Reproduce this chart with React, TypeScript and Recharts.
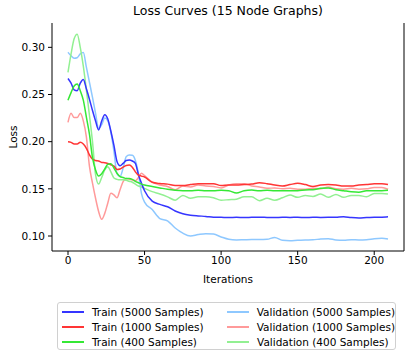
import { LineChart, Line, XAxis, YAxis, Label } from 'recharts';

const iterations = [
  0, 2, 4, 6, 8, 10, 12, 14, 16, 18, 20, 22, 24, 26, 28, 30, 32, 34, 36, 38, 40, 42, 44, 46, 48, 50,
  55, 60, 65, 70, 75, 80, 85, 90, 95, 100, 105, 110, 115, 120, 125, 130, 135, 140, 145, 150, 155,
  160, 165, 170, 175, 180, 185, 190, 195, 200, 205, 209,
];

const train5000 = [
  0.267, 0.262, 0.255, 0.254, 0.262, 0.266, 0.256, 0.245, 0.233, 0.222, 0.2125, 0.222, 0.2286, 0.224,
  0.211, 0.196, 0.179, 0.1745, 0.177, 0.18, 0.1805, 0.1795, 0.177, 0.165, 0.1558, 0.148,
  0.137, 0.1335, 0.131, 0.1265, 0.1235, 0.122, 0.1213, 0.1208, 0.12, 0.1198, 0.1195, 0.1198, 0.1195,
  0.1198, 0.12, 0.1197, 0.1195, 0.1198, 0.1197, 0.1198, 0.1195, 0.1198, 0.1197, 0.1198, 0.12, 0.1205,
  0.1195, 0.119, 0.1195, 0.1198, 0.12, 0.1203,
];
const train1000 = [
  0.1999, 0.1993, 0.1975, 0.1975, 0.1993, 0.1975, 0.193, 0.186, 0.1815, 0.18, 0.1795, 0.178, 0.1777,
  0.1768, 0.1755, 0.174, 0.1705, 0.171, 0.173, 0.1748, 0.1752, 0.173, 0.168, 0.1645, 0.1635, 0.1625,
  0.157, 0.1556, 0.155, 0.1535, 0.1535, 0.1545, 0.1555, 0.1555, 0.1555, 0.1535, 0.154, 0.154, 0.1545,
  0.155, 0.1565, 0.1555, 0.154, 0.153, 0.1545, 0.1558, 0.1545, 0.1525, 0.154, 0.1545, 0.154, 0.153,
  0.153, 0.154, 0.1545, 0.1555, 0.1555, 0.1545,
];
const train400 = [
  0.244, 0.252, 0.259, 0.2612, 0.254, 0.244, 0.226, 0.208, 0.183, 0.17, 0.1635, 0.166, 0.171, 0.176,
  0.1765, 0.172, 0.1665, 0.163, 0.162, 0.161, 0.161, 0.16, 0.158, 0.1565, 0.155, 0.154,
  0.1525, 0.151, 0.1495, 0.1485, 0.148, 0.148, 0.1485, 0.148, 0.148, 0.1485, 0.148, 0.1455, 0.148,
  0.1487, 0.148, 0.1485, 0.148, 0.148, 0.148, 0.148, 0.1488, 0.149, 0.1505, 0.151, 0.149, 0.148,
  0.147, 0.1465, 0.148, 0.148, 0.148, 0.1485,
];
const val5000 = [
  0.2947, 0.291, 0.2885, 0.289, 0.293, 0.2945, 0.279, 0.263, 0.247, 0.23, 0.214, 0.218, 0.225, 0.222,
  0.21, 0.19, 0.166, 0.163, 0.172, 0.184, 0.1858, 0.1855, 0.18, 0.166, 0.145, 0.136,
  0.128, 0.1185, 0.116, 0.1085, 0.103, 0.1, 0.1015, 0.1025, 0.102, 0.099, 0.0965, 0.0958, 0.096,
  0.0962, 0.0962, 0.0965, 0.0985, 0.0955, 0.095, 0.0955, 0.0958, 0.096, 0.0968, 0.0972, 0.0958,
  0.0955, 0.096, 0.0958, 0.096, 0.097, 0.0975, 0.0968,
];
const val1000 = [
  0.2205, 0.23, 0.2255, 0.2255, 0.23, 0.222, 0.205, 0.174, 0.156, 0.14, 0.126, 0.1177, 0.124, 0.135,
  0.1452, 0.1435, 0.1405, 0.149, 0.1576, 0.161, 0.1605, 0.1594, 0.1585, 0.162, 0.1664, 0.164,
  0.157, 0.154, 0.1525, 0.149, 0.153, 0.152, 0.154, 0.153, 0.1525, 0.151, 0.154, 0.1555, 0.1555,
  0.153, 0.152, 0.1505, 0.151, 0.15, 0.1505, 0.1495, 0.1495, 0.1505, 0.15, 0.152, 0.15, 0.1495,
  0.1505, 0.1495, 0.15, 0.1515, 0.1515, 0.1495,
];
const val400 = [
  0.2735, 0.293, 0.309, 0.314, 0.3, 0.28, 0.255, 0.228, 0.2, 0.165, 0.155, 0.162, 0.17, 0.1735,
  0.168, 0.1615, 0.16, 0.1595, 0.1595, 0.159, 0.158, 0.157, 0.155, 0.153, 0.152, 0.1505,
  0.147, 0.1445, 0.1415, 0.138, 0.143, 0.14, 0.1415, 0.1417, 0.1406, 0.138, 0.1385, 0.139, 0.1415,
  0.1415, 0.1375, 0.14, 0.138, 0.1405, 0.1434, 0.141, 0.143, 0.142, 0.1445, 0.141, 0.144, 0.141,
  0.143, 0.143, 0.1415, 0.145, 0.145, 0.1445,
];

const xTicks = [0, 50, 100, 150, 200];
const yTicks = [0.1, 0.15, 0.2, 0.25, 0.3];

const series = [
  { key: 'train5000', name: 'Train (5000 Samples)', color: '#3535ff', values: train5000 },
  { key: 'train1000', name: 'Train (1000 Samples)', color: '#ff3535', values: train1000 },
  { key: 'train400', name: 'Train (400 Samples)', color: '#35e835', values: train400 },
  { key: 'val5000', name: 'Validation (5000 Samples)', color: '#8ec8ff', values: val5000 },
  { key: 'val1000', name: 'Validation (1000 Samples)', color: '#ff9a9a', values: val1000 },
  { key: 'val400', name: 'Validation (400 Samples)', color: '#92f092', values: val400 },
];

const data = iterations.map((it, i) => {
  const row: any = { it };
  series.forEach((s) => { row[s.key] = s.values[i]; });
  return row;
});

const FONT = '"DejaVu Sans", sans-serif';
const tickStyle = { fontSize: 10.5, fill: '#000', fontFamily: FONT };

export default function App() {
  const drawOrder = [...series.slice(3), ...series.slice(0, 3)];
  return (
    <div style={{ position: 'absolute', left: 0, top: 0, width: 415, height: 359, background: '#fff', fontFamily: FONT }}>
      <div style={{ position: 'absolute', left: 52, top: 3, width: 352, textAlign: 'center', fontSize: 12.5, color: '#000' }}>
        Loss Curves (15 Node Graphs)
      </div>
      <LineChart width={415} height={359} data={data} margin={{ top: 23, right: 0, left: 0, bottom: 68 }}>
        <XAxis
          dataKey="it"
          type="number"
          domain={[-10.45, 219.45]}
          ticks={xTicks}
          allowDataOverflow
          height={40}
          tick={tickStyle}
          tickSize={4}
          tickMargin={2}
          stroke="#000"
        >
          <Label value="Iterations" position="insideBottom" offset={8} style={{ fontSize: 10.5, fill: '#000', fontFamily: FONT }} />
        </XAxis>
        <XAxis xAxisId="top" orientation="top" type="number" domain={[0, 1]} tick={false} tickLine={false} height={0} stroke="#000" />
        <YAxis
          type="number"
          domain={[0.0841, 0.3258]}
          ticks={yTicks}
          allowDataOverflow
          width={52}
          tick={tickStyle}
          tickSize={4}
          tickMargin={3}
          tickFormatter={(v: number) => v.toFixed(2)}
          stroke="#000"
        >
          <Label
            content={() => (
              <text x={14} y={137} transform="rotate(-90 14 137)" textAnchor="middle" dominantBaseline="middle" fontSize={10.5} fontFamily={FONT} fill="#000">
                Loss
              </text>
            )}
          />
        </YAxis>
        <YAxis yAxisId="right" orientation="right" type="number" domain={[0, 1]} tick={false} tickLine={false} width={11} stroke="#000" />
        {drawOrder.map((s) => (
          <Line
            key={s.key}
            dataKey={s.key}
            name={s.name}
            type="monotone"
            stroke={s.color}
            strokeWidth={1.5}
            dot={false}
            isAnimationActive={false}
          />
        ))}
      </LineChart>
      <div
        style={{
          position: 'absolute', left: 57, top: 302, width: 339, height: 48,
          border: '1px solid #d0d0d0', borderRadius: 3, boxSizing: 'border-box',
          fontSize: 10.5, color: '#000', paddingTop: 2,
        }}
      >
        {[0, 1, 2].map((r) => (
          <div key={r} style={{ display: 'flex', height: 14.7, alignItems: 'center' }}>
            {[series[r], series[r + 3]].map((s, c) => (
              <div key={s.key} style={{ display: 'flex', alignItems: 'center', width: c === 0 ? 163 : 170, paddingLeft: 4 }}>
                <span style={{ display: 'inline-block', width: 22, height: 2, background: s.color, marginRight: 8 }} />
                <span style={{ whiteSpace: 'nowrap' }}>{s.name}</span>
              </div>
            ))}
          </div>
        ))}
      </div>
    </div>
  );
}
